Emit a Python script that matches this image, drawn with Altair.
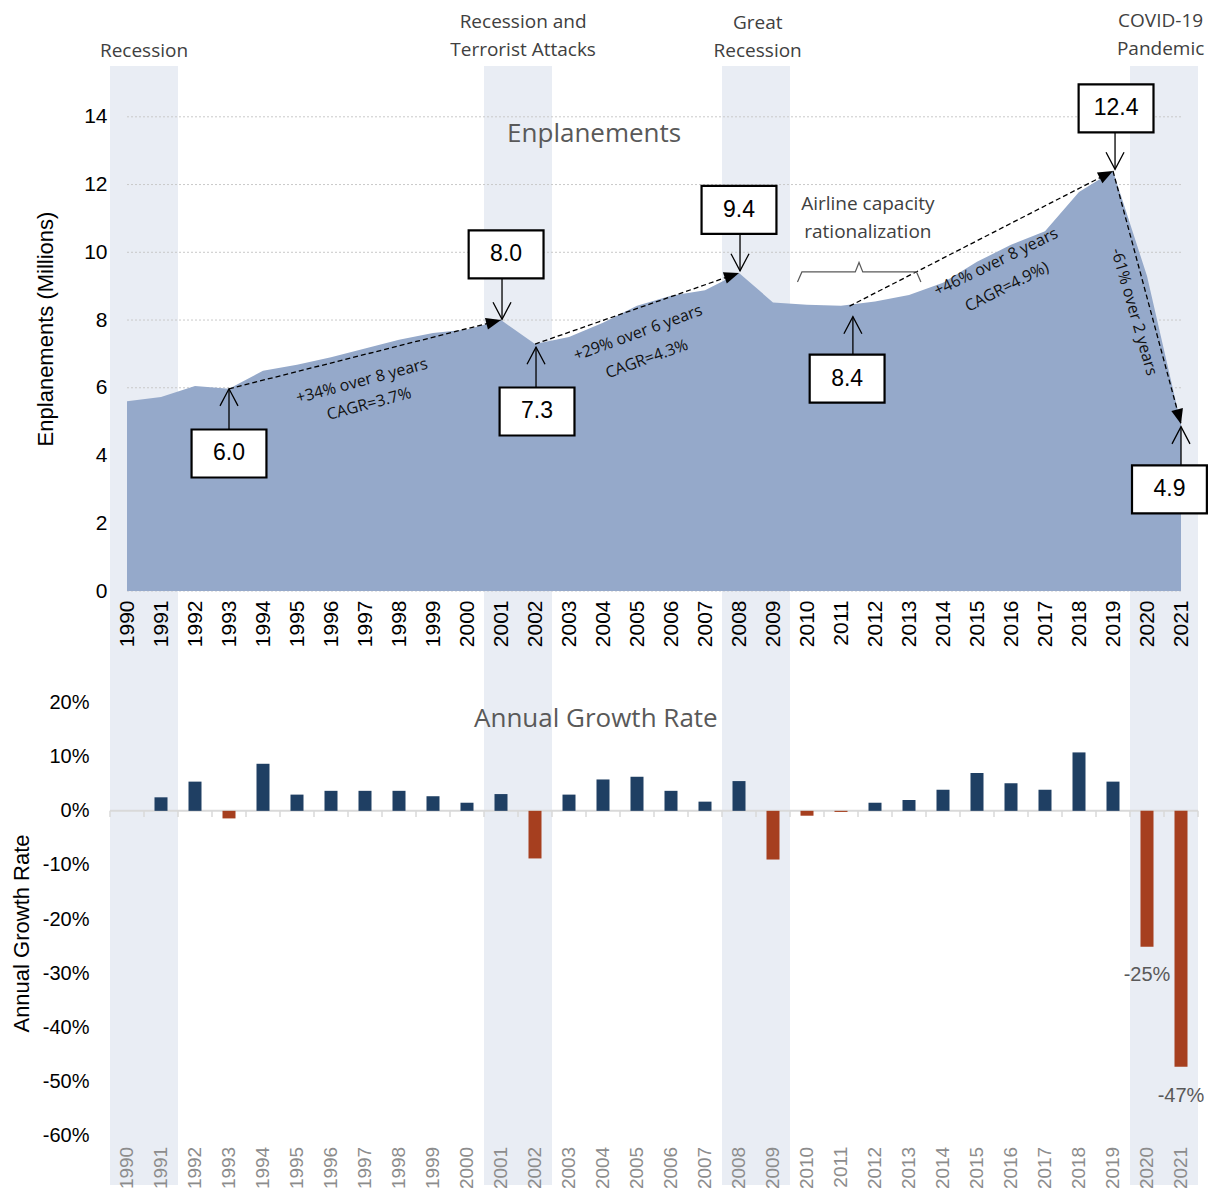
import math
import altair as alt
import pandas as pd

# ---------------- data ----------------
years = list(range(1990, 2022))
enplanements = [5.60, 5.73, 6.05, 5.97, 6.50, 6.68, 6.90, 7.16, 7.42, 7.62,
                7.72, 8.00, 7.29, 7.50, 7.92, 8.42, 8.72, 8.88, 9.39, 8.52,
                8.45, 8.42, 8.55, 8.74, 9.10, 9.72, 10.22, 10.62, 11.78, 12.40,
                9.30, 4.93]
growth = [None, 2.5, 5.4, -1.4, 8.7, 3.0, 3.7, 3.7, 3.7, 2.7,
          1.5, 3.1, -8.8, 3.0, 5.8, 6.3, 3.7, 1.7, 5.5, -9.0,
          -0.9, -0.2, 1.5, 2.0, 3.9, 7.0, 5.1, 3.9, 10.8, 5.4,
          -25.1, -47.3]

recession_first = [1990, 2001, 2008, 2020]
recession_last = [1991, 2002, 2009, 2021]
recession_text = ["Recession", "Recession and\nTerrorist Attacks", "Great\nRecession", "COVID-19\nPandemic"]
recession_text_x = [1990.5, 2001.65, 2008.55, 2020.4]
recession_text_y = [15.94, 16.80, 16.77, 16.83]

top_ticks = [0, 2, 4, 6, 8, 10, 12, 14]
growth_ticks = [-60, -50, -40, -30, -20, -10, 0, 10, 20]

callout_text = ["6.0", "8.0", "7.3", "9.4", "8.4", "12.4", "4.9"]
callout_x = [1993.0, 2001.15, 2002.06, 2008.0, 2011.18, 2019.09, 2020.66]
callout_y = [4.06, 9.94, 5.30, 11.25, 6.27, 14.25, 3.00]
pointer_x = [1993.0, 2001.03, 2002.03, 2008.03, 2011.35, 2019.06, 2021.0]
pointer_from = [4.78, 9.21, 5.99, 10.57, 7.00, 13.55, 3.69]
pointer_to = [5.97, 8.02, 7.20, 9.45, 8.10, 12.45, 4.85]

trend_x1 = [1993, 2002, 2011.25, 2019]
trend_y1 = [5.97, 7.29, 8.41, 12.40]
trend_x2 = [2001, 2008, 2019, 2021]
trend_y2 = [8.00, 9.39, 12.40, 4.93]

note_text = ["+34% over 8 years", "CAGR=3.7%", "+29% over 6 years", "CAGR=4.3%",
             "+46% over 8 years", "CAGR=4.9%)", "-61% over 2 years"]
note_x = [1996.91, 1997.12, 2005.03, 2005.29, 2015.56, 2015.88, 2019.62]
note_y = [6.20, 5.52, 7.62, 6.85, 9.71, 8.98, 8.24]
note_angle = [345, 345, 340, 340, 334, 333, 74]

brace_x = [2009.72, 2009.85, 2011.42, 2011.53, 2011.64, 2013.22, 2013.35]
brace_y = [9.12, 9.42, 9.42, 9.70, 9.42, 9.42, 9.12]

growth_label_text = ["-25%", "-47%"]
growth_label_x = [2020, 2021]
growth_label_y = [-30.3, -52.8]

# ---------------- style ----------------
AXF = "Liberation Sans"
ANF = "Open Sans"
AREA = "#95A9CA"
BAND = "#E9EDF4"
POS = "#1F3F63"
NEG = "#A63F1F"

W = 1088
H_TOP = 525
H_BOT = 504
GAP = 90
X_DOM = [1989.5, 2021.5]
Y_TOP = [0, 15.5]
Y_BOT = [-69.16, 24]
BAND_TOP_LOW = -GAP * (Y_TOP[1] - Y_TOP[0]) / H_TOP
PX_YEAR = W / (X_DOM[1] - X_DOM[0])
PX_UNIT = H_TOP / (Y_TOP[1] - Y_TOP[0])

xs = alt.Scale(domain=X_DOM, nice=False, zero=False, padding=0)
ys_top = alt.Scale(domain=Y_TOP, nice=False, zero=False)
ys_bot = alt.Scale(domain=Y_BOT, nice=False, zero=False)

top_xaxis = alt.Axis(values=years, format="d", labelAngle=270, labelFontSize=21, labelFont=AXF,
                     labelColor="black", ticks=False, domain=False, grid=False, title=None,
                     labelPadding=9, labelOverlap=False, labelFlush=False, zindex=1)
top_yaxis = alt.Axis(values=top_ticks, labelFontSize=21, labelFont=AXF, labelColor="black",
                     ticks=False, domain=False, grid=False, labelPadding=3,
                     title="Enplanements (Millions)", titleFont=AXF, titleFontSize=22,
                     titleFontWeight="normal", titleColor="black", titlePadding=26, zindex=1)
bot_yaxis = alt.Axis(values=growth_ticks, labelExpr="datum.value + '%'", labelFontSize=20,
                     labelFont=AXF, labelColor="black", ticks=False, domain=False, grid=False,
                     labelPadding=21, title="Annual Growth Rate", titleFont=AXF, titleFontSize=22,
                     titleFontWeight="normal", titleColor="black", titlePadding=9, zindex=1)


def TX(field):
    return alt.X(field, type="quantitative", scale=xs, axis=top_xaxis)


def TY(field):
    return alt.Y(field, type="quantitative", scale=ys_top, axis=top_yaxis)


def BX(field):
    return alt.X(field, type="quantitative", scale=xs, axis=None)


def BY(field):
    return alt.Y(field, type="quantitative", scale=ys_bot, axis=bot_yaxis)


# ---------------- tables ----------------
series = pd.DataFrame({"year": years, "enpl": enplanements, "growth": growth})
series["col"] = [NEG if (g is not None and g < 0) else POS for g in growth]
bars_df = series.dropna(subset=["growth"])

bands = pd.DataFrame({
    "x1": [a - 0.5 for a in recession_first],
    "x2": [b + 0.5 for b in recession_last],
})
bands_top = bands.assign(y1=Y_TOP[1], y2=BAND_TOP_LOW)
bands_bot = bands.assign(y1=Y_BOT[1], y2=Y_BOT[0])

rec_df = pd.DataFrame({"x": recession_text_x, "y": recession_text_y, "t": recession_text})
grid_df = pd.DataFrame({"y": top_ticks, "x1": years[0], "x2": years[-1]})
callout_df = pd.DataFrame({"x": callout_x, "y": callout_y, "t": callout_text})
pointer_df = pd.DataFrame({"x": pointer_x, "y1": pointer_from, "y2": pointer_to})
pointer_df["ang"] = [0 if b > a else 180 for a, b in zip(pointer_from, pointer_to)]
trend_df = pd.DataFrame({"x1": trend_x1, "y1": trend_y1, "x2": trend_x2, "y2": trend_y2})
trend_df["ang"] = [
    math.degrees(math.atan2(-(b2 - b1) * PX_UNIT, (a2 - a1) * PX_YEAR)) % 360
    for a1, b1, a2, b2 in zip(trend_x1, trend_y1, trend_x2, trend_y2)
]
note_df = pd.DataFrame({"x": note_x, "y": note_y, "t": note_text, "ang": note_angle})
brace_df = pd.DataFrame({"x": brace_x, "y": brace_y, "o": list(range(len(brace_x)))})
title_df = pd.DataFrame({"x": [2003.74], "y": [13.49], "t": ["Enplanements"]})
airline_df = pd.DataFrame({"x": [2011.79], "y": [11.43], "t": ["Airline capacity\nrationalization"]})

bounds = [X_DOM[0] + i for i in range(int(X_DOM[1] - X_DOM[0]) + 1)]
tick_df = pd.DataFrame({"x": bounds, "y1": 0.0, "y2": -1.15})
zero_df = pd.DataFrame({"x1": [X_DOM[0]], "x2": [X_DOM[1]], "y": [0.0]})
glab_df = pd.DataFrame({"x": growth_label_x, "y": growth_label_y, "t": growth_label_text})
ylab_df = pd.DataFrame({"x": years, "y": -62.1, "t": [str(y) for y in years]})

TRI = "M0,0 L-2,-0.8 L-2,0.8 Z"
VEE = "M-1,1.9 L0,0 L1,1.9"
BOX = "M-1.56,-1 L1.56,-1 L1.56,1 L-1.56,1 Z"

# ---------------- top panel ----------------
t_bands = alt.Chart(bands_top).mark_rect(color=BAND, clip=False).encode(
    x=TX("x1"), x2="x2", y=TY("y1"), y2="y2")
t_grid = alt.Chart(grid_df).mark_rule(color="#C9C9C9", strokeDash=[2, 2], strokeWidth=1).encode(
    x=TX("x1"), x2="x2", y=TY("y"))
t_area = alt.Chart(series).mark_area(color=AREA, opacity=1).encode(
    x=TX("year"), y=TY("enpl"))
t_trend = alt.Chart(trend_df).mark_rule(color="black", strokeDash=[5, 3], strokeWidth=1.3).encode(
    x=TX("x1"), y=TY("y1"), x2="x2", y2="y2")
t_head = alt.Chart(trend_df).mark_point(shape=TRI, filled=True, color="black", size=225, opacity=1).encode(
    x=TX("x2"), y=TY("y2"), angle=alt.Angle("ang:Q", scale=None))
t_ptr = alt.Chart(pointer_df).mark_rule(color="black", strokeWidth=1.3).encode(
    x=TX("x"), y=TY("y1"), y2="y2")
t_vee = alt.Chart(pointer_df).mark_point(shape=VEE, filled=False, color="black", size=324,
                                         strokeWidth=1.3, opacity=1).encode(
    x=TX("x"), y=TY("y2"), angle=alt.Angle("ang:Q", scale=None))
t_box = alt.Chart(callout_df).mark_point(shape=BOX, fill="white", stroke="black", strokeWidth=2.2,
                                         size=2304, opacity=1, fillOpacity=1).encode(
    x=TX("x"), y=TY("y"))
t_boxtxt = alt.Chart(callout_df).mark_text(font=AXF, fontSize=23, color="black", baseline="middle").encode(
    x=TX("x"), y=TY("y"), text="t:N")
t_notes = alt.Chart(note_df).mark_text(font=ANF, fontSize=16, color="#111111", baseline="middle").encode(
    x=TX("x"), y=TY("y"), text="t:N", angle=alt.Angle("ang:Q", scale=None))
t_brace = alt.Chart(brace_df).mark_line(color="#595959", strokeWidth=1.2).encode(
    x=TX("x"), y=TY("y"), order="o:Q")
t_title = alt.Chart(title_df).mark_text(font=ANF, fontSize=26, color="#595959", baseline="middle").encode(
    x=TX("x"), y=TY("y"), text="t:N")
t_airline = alt.Chart(airline_df).mark_text(font=ANF, fontSize=19, color="#404040", baseline="middle",
                                            lineBreak="\n", lineHeight=28).encode(
    x=TX("x"), y=TY("y"), text="t:N")
t_rec = alt.Chart(rec_df).mark_text(font=ANF, fontSize=19, color="#404040", baseline="middle",
                                    lineBreak="\n", lineHeight=28).encode(
    x=TX("x"), y=TY("y"), text="t:N")

top = alt.layer(t_bands, t_grid, t_area, t_trend, t_head, t_ptr, t_vee, t_box, t_boxtxt,
                t_notes, t_brace, t_title, t_airline, t_rec).properties(width=W, height=H_TOP)

# ---------------- bottom panel ----------------
b_bands = alt.Chart(bands_bot).mark_rect(color=BAND).encode(
    x=BX("x1"), x2="x2", y=BY("y1"), y2="y2")
b_zero = alt.Chart(zero_df).mark_rule(color="#D9D9D9", strokeWidth=2).encode(
    x=BX("x1"), x2="x2", y=BY("y"))
b_ticks = alt.Chart(tick_df).mark_rule(color="#D9D9D9", strokeWidth=1.5).encode(
    x=BX("x"), y=BY("y1"), y2="y2")
b_bars = alt.Chart(bars_df).mark_bar(size=13).encode(
    x=BX("year"), y=BY("growth"), y2=alt.datum(0), color=alt.Color("col:N", scale=None))
b_glab = alt.Chart(glab_df).mark_text(font=AXF, fontSize=20, color="#595959", baseline="middle").encode(
    x=BX("x"), y=BY("y"), text="t:N")
b_title = alt.Chart(pd.DataFrame({"x": [2003.79], "y": [17.0], "t": ["Annual Growth Rate"]})).mark_text(
    font=ANF, fontSize=26, color="#595959", baseline="middle").encode(
    x=BX("x"), y=BY("y"), text="t:N")
b_years = alt.Chart(ylab_df).mark_text(font=AXF, fontSize=19, color="#8C8C8C", angle=270,
                                       align="right", baseline="middle").encode(
    x=BX("x"), y=BY("y"), text="t:N")

bottom = alt.layer(b_bands, b_zero, b_ticks, b_bars, b_glab, b_title, b_years).properties(
    width=W, height=H_BOT)

chart = alt.vconcat(top, bottom, spacing=GAP, bounds="flush").properties(
    padding={"left": 2, "top": 3, "right": 0, "bottom": 0}
).configure_view(stroke=None)

chart.save("out.html", embed_options={"renderer": "svg", "actions": False})
